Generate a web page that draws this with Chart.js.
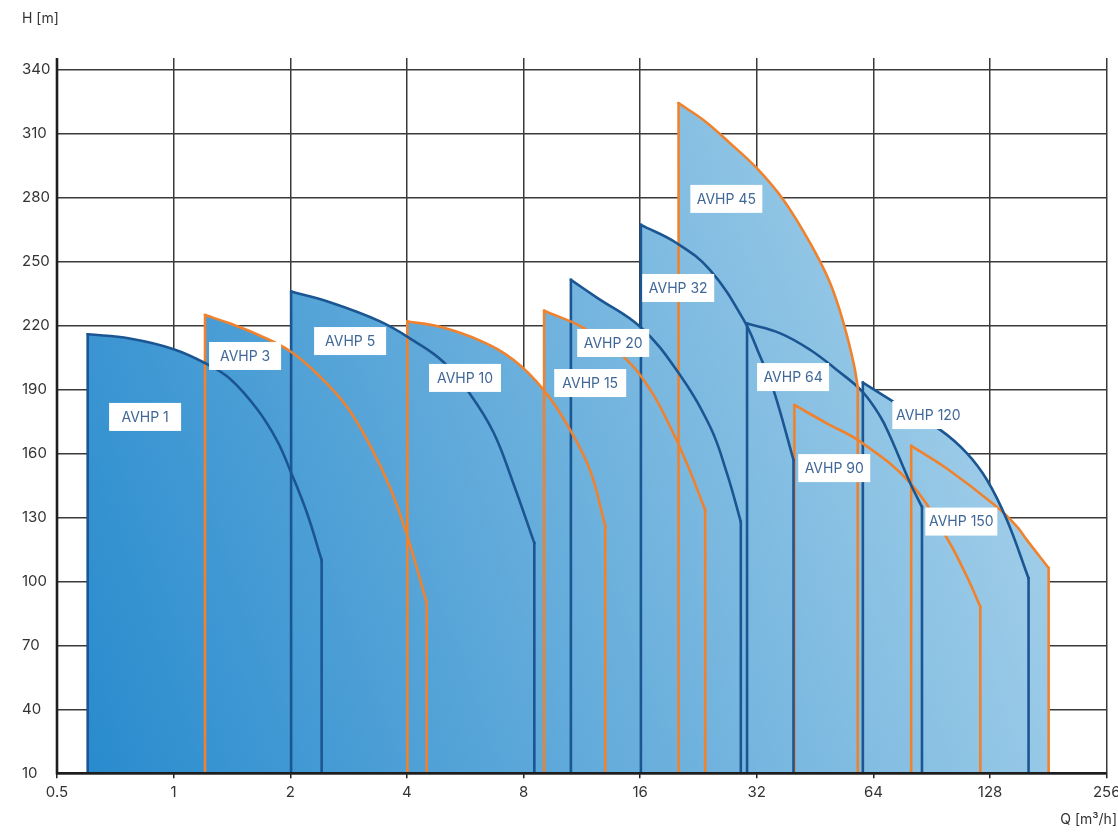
<!DOCTYPE html>
<html>
<head>
<meta charset="utf-8">
<style>
html,body{margin:0;padding:0;background:#fff;}
#wrap{width:1118px;height:832px;position:relative;}
</style>
<script src="https://cdn.jsdelivr.net/npm/chart.js@4.4.0/dist/chart.umd.min.js"></script>
</head>
<body>
<div id="wrap"><canvas id="c"></canvas></div>
<script>
// ---- axis ticks ----
const xTicks = [0.5, 1, 2, 4, 8, 16, 32, 64, 128, 256];
const yTicks = [10, 40, 70, 100, 130, 160, 190, 220, 250, 280, 310, 340];
const yMin = 10;

// ---- pump curves (Q in m3/h, H in m) ----
const qAVHP1   = [0.60, 0.77, 1.0, 1.22, 1.40, 1.64, 1.85, 2.0, 2.21, 2.41];
const hAVHP1   = [216, 214, 209, 202, 195, 181, 166, 152, 132, 110];
const qAVHP3   = [1.205, 1.40, 1.64, 2.0, 2.39, 2.80, 3.21, 3.62, 4.0, 4.5];
const hAVHP3   = [225, 221, 216, 208, 196, 182, 164, 144, 122, 90];
const qAVHP5   = [2.01, 2.53, 3.41, 4.16, 4.97, 5.82, 6.69, 7.53, 8.53];
const hAVHP5   = [236, 231, 222, 213, 203, 188, 170, 146, 118];
const qAVHP10  = [4.01, 4.87, 6.18, 7.53, 9.0, 10.56, 11.89, 13.0];
const hAVHP10  = [222, 219.5, 213, 204, 190, 171, 152, 126];
const qAVHP15  = [9.04, 11.42, 14.49, 16.98, 19.12, 21.12, 23.55];
const hAVHP15  = [227, 219, 205.5, 190, 172.6, 155.4, 133.5];
const qAVHP20  = [10.6, 12.37, 16.0, 19.9, 24.25, 26.8, 29.1];
const hAVHP20  = [241.5, 233.2, 219.5, 199, 172.6, 150.7, 128];
const qAVHP32  = [16.07, 19.9, 24.25, 29.6, 32.65, 35.35, 39.8];
const hAVHP32  = [267.3, 258.7, 246.1, 222.7, 205.5, 189.8, 157];
const qAVHP45  = [20.1, 23.3, 27.3, 32.0, 37.5, 43.96, 49.5, 53.6, 56.9, 58.3];
const hAVHP45  = [324.4, 316.5, 305.6, 293.9, 279, 258.7, 239.9, 221.1, 202.4, 191.4];
const qAVHP64  = [30.2, 36.8, 44.0, 51.5, 60.0, 66.7, 70.7, 79.7, 85.4];
const hAVHP64  = [221, 216.4, 208.6, 199.2, 189, 177.3, 168, 146, 135];
const qAVHP90  = [40.0, 48.5, 59.2, 79.7, 99.0, 111.6, 120.8];
const hAVHP90  = [182.8, 174.2, 165.6, 146.1, 120.4, 102.2, 88.1];
const qAVHP120 = [60.1, 72.1, 95.2, 111.6, 125.7, 141.5, 160.9];
const hAVHP120 = [193.3, 184.3, 171.1, 160.1, 147.6, 128.8, 101.5];
const qAVHP150 = [80.1, 99, 133.4, 150.2, 159.4, 181.3];
const hAVHP150 = [163.6, 153, 134.9, 125.7, 119.4, 106.3];

const pumpNames = ['AVHP 1','AVHP 3','AVHP 5','AVHP 10','AVHP 15','AVHP 20','AVHP 32','AVHP 45','AVHP 64','AVHP 90','AVHP 120','AVHP 150'];
const pumpQ = [qAVHP1,qAVHP3,qAVHP5,qAVHP10,qAVHP15,qAVHP20,qAVHP32,qAVHP45,qAVHP64,qAVHP90,qAVHP120,qAVHP150];
const pumpH = [hAVHP1,hAVHP3,hAVHP5,hAVHP10,hAVHP15,hAVHP20,hAVHP32,hAVHP45,hAVHP64,hAVHP90,hAVHP120,hAVHP150];
// label anchor points (data coordinates)
const labelQ = [0.844, 1.529, 2.854, 5.65, 11.89, 13.63, 20.06, 26.7, 39.7, 50.7, 88.7, 107.9];
const labelH = [177.2, 205.8, 212.8, 195.5, 193.1, 211.9, 237.7, 279.5, 195.9, 153.2, 178.1, 128.1];

// ---- styles ----
const lineKind = ['blue','orange','blue','orange','orange','blue','blue','orange','blue','orange','blue','orange'];
const COLORS = { blue: '#1b5692', orange: '#f0822e' };
const FONT = 'Inter';

let gradCache = null, gradKey = '';
function fillGrad(ctx) {
  const chart = ctx.chart;
  const a = chart.chartArea;
  if (!a) return 'rgba(0,0,0,0)';
  const key = a.left + ',' + a.top + ',' + a.right + ',' + a.bottom;
  if (gradCache && key === gradKey) return gradCache;
  const g = chart.ctx.createLinearGradient(a.left, a.bottom, a.right, a.top + (a.bottom - a.top) * 0.48);
  g.addColorStop(0, '#2589cd');
  g.addColorStop(1, '#acd4eb');
  gradCache = g; gradKey = key;
  return g;
}

const datasets = [];
pumpNames.forEach((name, i) => {
  const q = pumpQ[i], h = pumpH[i];
  const col = COLORS[lineKind[i]];
  datasets.push({
    label: name,
    data: q.map((v, k) => ({ x: v, y: h[k] })),
    borderColor: col,
    borderWidth: 2.6,
    backgroundColor: fillGrad,
    fill: 'start',
    tension: 0.4,
    pointRadius: 0,
    borderCapStyle: 'round'
  });
  const last = q.length - 1;
  datasets.push({
    label: name + ' edges',
    data: [{ x: q[0], y: h[0] }, { x: q[0], y: yMin }, { x: q[last], y: yMin }, { x: q[last], y: h[last] }],
    borderColor: col,
    borderWidth: 2.6,
    fill: false,
    tension: 0,
    pointRadius: 0,
    borderCapStyle: 'square',
    borderJoinStyle: 'miter'
  });
});

const overlay = {
  id: 'overlay',
  afterDatasetsDraw(chart) {
    const { ctx, chartArea: a, scales: { x, y } } = chart;
    ctx.save();
    // axis lines on top of fills
    ctx.strokeStyle = '#1e1e1e';
    ctx.lineWidth = 2.6;
    ctx.beginPath();
    ctx.moveTo(a.left, a.top);
    ctx.lineTo(a.left, a.bottom);
    ctx.lineTo(a.right, a.bottom);
    ctx.stroke();
    // labels
    ctx.font = '14px ' + FONT;
    ctx.textAlign = 'center';
    ctx.textBaseline = 'middle';
    pumpNames.forEach((n, i) => {
      const px = x.getPixelForValue(labelQ[i]);
      const py = y.getPixelForValue(labelH[i]);
      ctx.fillStyle = '#ffffff';
      ctx.fillRect(px - 36, py - 14, 72, 28);
      ctx.fillStyle = '#3f6797';
      ctx.fillText(n, px, py + 0.5);
    });
    // axis titles
    ctx.fillStyle = '#333';
    ctx.font = '14px ' + FONT;
    ctx.textAlign = 'left';
    ctx.fillText('H [m]', 22, 19);
    ctx.textAlign = 'right';
    ctx.fillText('Q [m\u00B3/h]', chart.width - 1, 820);
    ctx.restore();
  }
};

new Chart(document.getElementById('c'), {
  type: 'line',
  data: { datasets },
  options: {
    responsive: true,
    maintainAspectRatio: false,
    animation: false,
    events: [],
    layout: { padding: { left: 22, top: 58, right: 11.3, bottom: 0 } },
    plugins: {
      legend: { display: false },
      tooltip: { enabled: false },
      filler: { drawTime: 'beforeDatasetsDraw' }
    },
    scales: {
      x: {
        type: 'logarithmic',
        min: 0.5,
        max: 256,
        afterBuildTicks: s => { s.ticks = xTicks.map(v => ({ value: v })); },
        afterFit: s => { s.height = 58.7; s.paddingLeft = 0; s.paddingRight = 0; },
        ticks: {
          autoSkip: false, maxRotation: 0, minRotation: 0, padding: 5,
          color: '#333', font: { family: FONT, size: 15 },
          callback: v => String(v)
        },
        grid: { color: '#3a3a3a', lineWidth: 1.5, drawTicks: true, tickLength: 5, tickColor: '#222' },
        border: { display: false }
      },
      y: {
        type: 'linear',
        min: yMin,
        max: 345.6,
        afterBuildTicks: s => { s.ticks = yTicks.map(v => ({ value: v })); },
        afterFit: s => { s.width = 35; },
        ticks: {
          crossAlign: 'far',
          color: '#333', font: { family: FONT, size: 15 }
        },
        grid: { color: '#3a3a3a', lineWidth: 1.5, drawTicks: false },
        border: { display: false }
      }
    }
  },
  plugins: [overlay]
});
</script>
</body>
</html>
